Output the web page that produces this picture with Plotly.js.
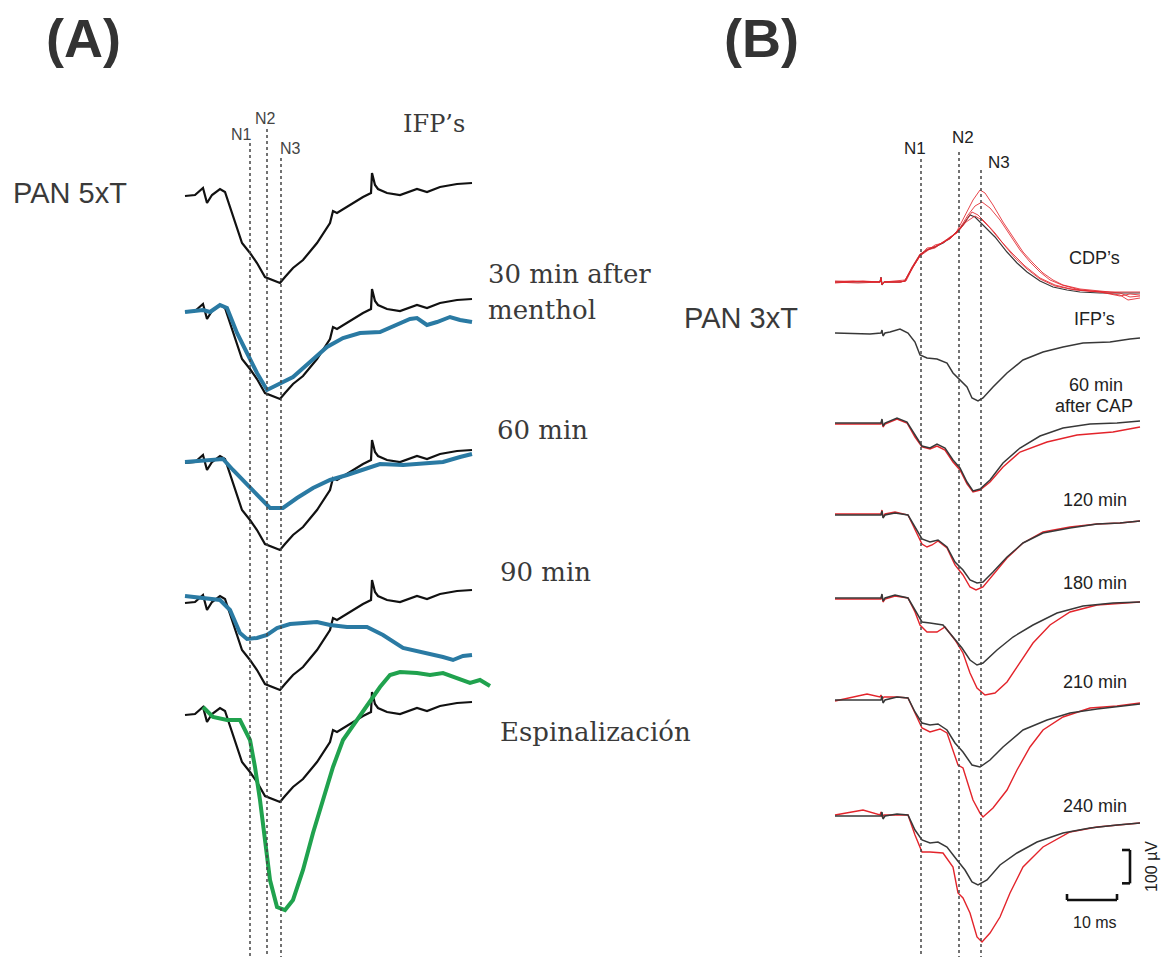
<!DOCTYPE html>
<html><head><meta charset="utf-8">
<script src="https://cdn.plot.ly/plotly-3.0.1.min.js"></script>
<style>html,body{margin:0;padding:0;background:#fff}#chart{width:1161px;height:957px}</style>
</head><body><div id="chart"></div>
<script>
// ---------- Panel A (time in ms, amplitude in a.u.) ----------
const aIfpT = [0.2,2.2,3.8,4.6,5.6,7.2,8.2,9.6,10.6,11.6,13.2,14.6,16.2,17.2,19.2,20.2,21.8,23.8,26.6,29.2,29.8,30.6,33.2,35.8,37.4,37.6,38.2,38.8,40.6,43.2,46.6,48.6,51.2,54.6,57.6];
const aIfpV = [0,1,8,-7,1,7,4,-17,-34,-47,-57,-67,-81,-83,-87,-81,-72,-64,-47,-27,-15,-17,-9,-1,3,23,11,7,3,1,7,4,9,12,13];
const aM30T = [0.2,3.8,5.2,7.2,8.6,10.6,12.6,14.6,16.6,18.6,21.8,25.2,28.6,31.8,35.2,39.2,42.6,45.2,46.6,48.6,50.6,53.2,55.2,57.6];
const aM30V = [0,2,0,7,4,-21,-41,-61,-78,-73,-65,-50,-35,-26,-21,-20,-13,-7,-6,-13,-10,-5,-8,-10];
const aM60T = [0.2,4.6,7.8,9.8,11.8,14.6,17.2,19.8,22.6,25.8,29.2,32.6,35.8,39.2,43.8,47.8,51.8,55.2,57.6];
const aM60V = [1,3,4,-7,-17,-32,-45,-45,-35,-25,-17,-12,-7,-1,-2,0,1,6,9];
const aM90T = [0.2,3.8,7.2,9.2,11.2,12.6,14.6,16.6,18.6,21.2,23.8,26.6,29.2,32.6,36.6,39.8,43.8,47.8,51.8,53.8,55.8,57.6];
const aM90V = [7,5,3,-7,-30,-36,-35,-32,-25,-21,-20,-19,-22,-24,-24,-32,-45,-49,-54,-57,-53,-52];
const aSpinT = [3.8,5.8,8.6,11.2,13.2,14.2,15.2,16.2,17.2,18.6,20.2,21.8,23.8,25.8,27.8,29.8,31.8,34.6,37.2,39.2,41.2,43.2,46.6,49.2,51.8,54.6,57.2,59.2,61.2];
const aSpinV = [8,-2,-5,-5,-25,-52,-85,-125,-165,-192,-195,-185,-155,-118,-85,-52,-25,-5,12,28,40,43,42,40,42,37,32,35,29];
const aLatency = [13.2,16.6,19.4];           // N1, N2, N3
const aLabels = ["IFP’s","30 min after","menthol","60 min","90 min","Espinalización"];

// ---------- Panel B (time in ms, amplitude in µV) ----------
const bCdpBlackT = [0.4,7.4,9.4,9.6,9.8,10.2,13.4,14.4,15.8,17.4,18.8,20.4,22,23.4,24.8,26,27.4,28.4,29.4,30.8,32.4,34.8,36.8,38.8,41.4,44,46.8,49.4,53.4,57.4,61.4];
const bCdpBlackV = [0,0,0,15,-9,0,0,3,42,81,96,105,117,132,150,171,201,195,180,162,135,90,57,30,3,-15,-24,-30,-33,-33,-33];
const bCdpRed1T = [0.4,4,9.4,9.6,9.8,10.2,13.4,14.6,16,17.6,19,20.6,22.2,23.6,24.8,26.4,28,29.4,30.4,32,34,36,38,40,42,44,46,49.4,53.4,57.4,59.4,61.4];
const bCdpRed1V = [0,3,0,12,-6,0,0,3,45,84,99,108,120,135,153,201,246,276,267,231,180,135,90,57,27,6,-9,-21,-27,-33,-45,-42];
const bCdpRed2T = [0.4,5,9.4,9.6,9.8,10.2,13.4,14.4,15.8,17.4,18.8,20.4,22,23.6,25.4,27,28.4,29.8,31.4,33.4,35.4,37.4,39.4,41.4,43.4,45.8,49.4,53.4,57.4,59,61.4];
const bCdpRed2V = [0,-3,0,10,-8,0,0,3,39,78,93,111,117,135,162,201,228,240,222,186,141,96,60,30,6,-9,-24,-30,-39,-54,-48];
const bCdpRed3T = [0.4,6,9.4,9.6,9.8,10.2,13.4,14.4,15.8,17.4,18.8,20.4,22,23.4,24.8,26.4,27.8,29,30.4,32.4,34.4,36.4,38.8,41.4,44.4,47.4,51.4,55.4,61.4];
const bCdpRed3V = [3,0,0,14,-8,0,3,6,42,78,102,105,120,129,150,180,210,201,180,147,108,72,39,9,-12,-21,-27,-30,-30];
const bCdpRed4T = [0.4,6,9.4,9.6,9.8,10.2,13.4,14.4,15.8,17.4,18.8,20.4,22,23.4,24.8,26.6,28.4,29.8,31.4,33.4,35.8,38.4,41.4,44.4,48.4,53.4,57.4,59.4,61.4];
const bCdpRed4V = [-3,3,0,12,-6,0,0,3,45,84,96,102,120,135,147,180,198,186,162,126,87,48,12,-9,-24,-30,-42,-36,-39];

const bIfpT = [0.4,7.4,9.6,9.8,10,10.4,11.4,13.4,15,16.4,17.4,18.8,20.8,22.8,24,25.4,26.8,27.8,29,30,32,34.8,38,42,46,50,55.4,59.4,61.4];
const bIfpV = [0,-3,0,9,-9,0,3,12,0,-27,-66,-75,-78,-90,-120,-141,-162,-195,-204,-195,-162,-120,-81,-57,-42,-30,-27,-18,-15];

const b60BlackT = [0.4,9.6,9.8,10,10.4,12.8,14.8,16.4,17.8,19.4,20.8,22.4,24,25.4,26.8,28,29.4,31.4,34,37.4,41.4,46,51.4,56.8,61.4];
const b60BlackV = [0,0,12,-9,0,15,3,-36,-69,-75,-63,-75,-111,-135,-177,-204,-198,-171,-120,-75,-39,-15,-3,0,6];
const b60RedT = [0.4,9.6,9.8,10,10.4,12.8,14.8,16.4,17.8,19.4,20.8,22.4,24,25.4,26.8,28,29.4,31.4,34,37.4,42.8,48.8,56,61.4];
const b60RedV = [-3,-3,9,-12,-3,12,0,-42,-72,-78,-69,-81,-117,-141,-183,-207,-201,-177,-132,-87,-57,-36,-27,-12];

const b120BlackT = [0.4,9.6,9.8,10,10.4,12.4,15,16.4,17.8,19.4,21,22.8,24.4,26,27.4,28.8,30,32,34.8,38,42,47.4,52.8,57.4,61.4];
const b120BlackV = [0,0,12,-9,0,6,0,-36,-72,-81,-75,-96,-141,-165,-195,-204,-201,-171,-126,-84,-54,-39,-27,-24,-18];
const b120RedT = [0.4,9.6,9.8,10,10.4,12.4,15,16.4,17.8,18.8,19.8,21,22.8,24.4,26,27.4,28.6,30,32,34.8,38,42,47.4,52.8,57.4,61.4];
const b120RedV = [3,3,15,-6,3,9,0,-45,-87,-96,-90,-78,-99,-150,-180,-216,-225,-216,-180,-129,-84,-51,-36,-27,-24,-18];

const b180BlackT = [0.4,9.6,9.8,10,10.4,12.4,15,16.4,17.8,19.4,22,24,25.8,27.4,28.8,30,32.8,36,40,44.8,50,56,61.4];
const b180BlackV = [0,0,12,-9,0,9,0,-36,-72,-75,-81,-117,-150,-186,-201,-195,-156,-117,-81,-45,-24,-15,-12];
const b180RedT = [0.4,9.6,9.8,10,10.4,12.4,15,16.4,17.4,18.8,20.8,22.4,24.4,26,27.4,28.8,30.4,32.4,34.8,37.4,40,43.4,47.4,52.8,61.4];
const b180RedV = [-3,-3,9,-12,-3,6,0,-42,-81,-102,-102,-87,-126,-165,-225,-270,-291,-285,-252,-195,-135,-81,-42,-21,-12];

const b210BlackT = [0.4,9.6,9.8,10,10.4,12.8,15,16.4,17.8,19.4,21,22.8,24.4,26,27.8,29.4,31.4,34,38,42.8,47.4,52.8,61.4];
const b210BlackV = [0,0,12,-9,0,9,6,-36,-69,-75,-72,-90,-129,-156,-195,-201,-180,-141,-90,-60,-39,-27,-12];
const b210RedT = [0.4,4,6.8,9.4,9.6,9.8,10.2,12.8,15,16.4,17.8,19.4,21.4,22.8,24,25,26,27,28,29.4,30,32,34.8,36.8,39.4,42,46,51.4,56.8,61.4];
const b210RedV = [-3,9,18,9,15,3,9,9,6,-39,-84,-96,-87,-99,-150,-195,-204,-249,-300,-339,-351,-324,-270,-210,-141,-90,-51,-24,-18,-9];

const b240BlackT = [0.4,9.6,9.8,10,10.4,12.8,15,16.4,17.8,19.4,21,22.8,24.8,26.4,27.8,29,30.8,33.4,36.8,40.8,46,51.4,56.8,61.4];
const b240BlackV = [0,0,12,-9,0,6,3,-42,-72,-81,-78,-93,-132,-162,-198,-207,-192,-147,-111,-78,-51,-36,-27,-21];
const b240RedT = [0.4,4,6,9.4,9.6,9.8,10.2,15,16.4,17.8,19.4,22,24,25,26,27.4,28.8,29.8,31.4,33.4,35.4,38,42,47.4,52.8,61.4];
const b240RedV = [3,12,18,3,12,-3,3,3,-57,-108,-108,-111,-153,-231,-246,-291,-363,-378,-351,-303,-231,-153,-93,-48,-33,-21];

const bLatency = [17.6,25.2,29.6];           // N1, N2, N3
const bLabels = ["CDP’s","IFP’s","60 min","after CAP","120 min","180 min","210 min","240 min"];
const bScaleMs = 10, bScaleUv = 100;

// ---------- layout geometry (pixels) ----------
const W = 1161, H = 957;
const aRowBase = [196,312,463,603,715];                 // px baselines, panel A
const bRowBase = {cdp:282, ifp:333, r60:423, r120:515, r180:598, r210:700, r240:816};
const aOff = i => -aRowBase[i];
const bOff = k => -3*bRowBase[k];

const BLACK_A = '#111', BLUE = '#2a7aa3', GREEN = '#20a24e';
const BLACK_B = '#383838', RED = '#e3242b';

function tr(t, v, off, ax, color, width, opacity) {
  return {x: t, y: v.map(d => d + off), type: 'scatter', mode: 'lines',
    xaxis: ax === 'A' ? 'x' : 'x2', yaxis: ax === 'A' ? 'y' : 'y2',
    line: {color: color, width: width, shape: 'linear'}, opacity: opacity || 1,
    hoverinfo: 'skip', showlegend: false};
}

const traces = [];
// Panel A: black IFP reference in every row, then coloured condition
for (let i = 0; i < 5; i++) traces.push(tr(aIfpT, aIfpV, aOff(i), 'A', BLACK_A, 2.2));
traces.push(tr(aM30T, aM30V, aOff(1), 'A', BLUE, 4));
traces.push(tr(aM60T, aM60V, aOff(2), 'A', BLUE, 4));
traces.push(tr(aM90T, aM90V, aOff(3), 'A', BLUE, 4));
traces.push(tr(aSpinT, aSpinV, aOff(4), 'A', GREEN, 4));

// Panel B
traces.push(tr(bCdpBlackT, bCdpBlackV, bOff('cdp'), 'B', BLACK_B, 1.2));
traces.push(tr(bCdpRed1T, bCdpRed1V, bOff('cdp'), 'B', RED, 1, 0.85));
traces.push(tr(bCdpRed2T, bCdpRed2V, bOff('cdp'), 'B', RED, 1, 0.85));
traces.push(tr(bCdpRed3T, bCdpRed3V, bOff('cdp'), 'B', RED, 1, 0.85));
traces.push(tr(bCdpRed4T, bCdpRed4V, bOff('cdp'), 'B', RED, 1, 0.85));
traces.push(tr(bIfpT, bIfpV, bOff('ifp'), 'B', BLACK_B, 1.5));
[[b60RedT,b60RedV,b60BlackT,b60BlackV,'r60'],[b120RedT,b120RedV,b120BlackT,b120BlackV,'r120'],
 [b180RedT,b180RedV,b180BlackT,b180BlackV,'r180'],[b210RedT,b210RedV,b210BlackT,b210BlackV,'r210'],
 [b240RedT,b240RedV,b240BlackT,b240BlackV,'r240']].forEach(r => {
  traces.push(tr(r[0], r[1], bOff(r[4]), 'B', RED, 1.4));
  traces.push(tr(r[2], r[3], bOff(r[4]), 'B', BLACK_B, 1.5));
});

// ---------- shapes ----------
const shapes = [];
const aTop = [143,129,158], bTop = [159,152,170];
aLatency.forEach((t, i) => shapes.push({type:'line', xref:'x', yref:'y', x0:t, x1:t, y0:-aTop[i], y1:-H,
  line:{color:'#444', width:1.5, dash:'dot'}}));
bLatency.forEach((t, i) => shapes.push({type:'line', xref:'x2', yref:'y2', x0:t, x1:t, y0:-3*bTop[i], y1:-3*H,
  line:{color:'#444', width:1.5, dash:'dot'}}));
// scale bars (panel B), in data units
const sbX0 = 46.8, sbY = -2700, vbX = 59.4, vbY0 = -2550;
const sb = {color:'#111', width:2.6};
shapes.push({type:'line', xref:'x2', yref:'y2', x0:sbX0, x1:sbX0+bScaleMs, y0:sbY, y1:sbY, line:sb});
shapes.push({type:'line', xref:'x2', yref:'y2', x0:sbX0, x1:sbX0, y0:sbY, y1:sbY+18, line:sb});
shapes.push({type:'line', xref:'x2', yref:'y2', x0:sbX0+bScaleMs, x1:sbX0+bScaleMs, y0:sbY, y1:sbY+18, line:sb});
shapes.push({type:'line', xref:'x2', yref:'y2', x0:vbX, x1:vbX, y0:vbY0, y1:vbY0-bScaleUv, line:sb});
shapes.push({type:'line', xref:'x2', yref:'y2', x0:vbX-1.6, x1:vbX, y0:vbY0, y1:vbY0, line:sb});
shapes.push({type:'line', xref:'x2', yref:'y2', x0:vbX-1.6, x1:vbX, y0:vbY0-bScaleUv, y1:vbY0-bScaleUv, line:sb});

// ---------- annotations (pixel positions) ----------
function ann(text, px, py, size, family, color, xanchor, extra) {
  return Object.assign({text: text, x: px / W, y: 1 - py / H, xref: 'paper', yref: 'paper',
    xanchor: xanchor || 'left', yanchor: 'middle', showarrow: false,
    font: {size: size, family: family, color: color}}, extra || {});
}
const SANS = 'Liberation Sans, Arial, sans-serif', SERIF = 'DejaVu Serif, serif';
const annotations = [
  ann('<b>(A)</b>', 44, 38, 54, SANS, '#333'),
  ann('<b>(B)</b>', 722, 38, 54, SANS, '#333'),
  ann('PAN 5xT', 11, 193, 29, SANS, '#3a3a3a'),
  ann('PAN 3xT', 682, 318, 29, SANS, '#3a3a3a'),
  ann('N1', 241, 134, 16, SANS, '#444', 'center'),
  ann('N2', 265, 118, 16, SANS, '#444', 'center'),
  ann('N3', 290, 149, 16, SANS, '#444', 'center'),
  ann(aLabels[0], 401, 124, 24, SERIF, '#3a3a3a'),
  ann(aLabels[1], 486, 274, 26, SERIF, '#3a3a3a'),
  ann(aLabels[2], 486, 310, 26, SERIF, '#3a3a3a'),
  ann(aLabels[3], 495, 430, 26, SERIF, '#3a3a3a'),
  ann(aLabels[4], 498, 572, 26, SERIF, '#3a3a3a'),
  ann(aLabels[5], 498, 732, 26, SERIF, '#3a3a3a'),
  ann('N1', 915, 148, 17, SANS, '#222', 'center'),
  ann('N2', 963, 138, 17, SANS, '#222', 'center'),
  ann('N3', 999, 163, 17, SANS, '#222', 'center'),
  ann(bLabels[0], 1094, 258, 18, SANS, '#222', 'center'),
  ann(bLabels[1], 1094, 319, 18, SANS, '#222', 'center'),
  ann(bLabels[2], 1096, 385, 18, SANS, '#222', 'center'),
  ann(bLabels[3], 1094, 406, 18, SANS, '#222', 'center'),
  ann(bLabels[4], 1095, 500, 18, SANS, '#222', 'center'),
  ann(bLabels[5], 1095, 583, 18, SANS, '#222', 'center'),
  ann(bLabels[6], 1095, 682, 18, SANS, '#222', 'center'),
  ann(bLabels[7], 1095, 806, 18, SANS, '#222', 'center'),
  ann(bScaleMs + ' ms', 1095, 922, 16, SANS, '#222', 'center'),
  ann(bScaleUv + ' µV', 1151, 867, 16, SANS, '#222', 'center', {textangle: -90})
];

const hidden = {visible: false, fixedrange: true, showgrid: false, zeroline: false};
const layout = {
  width: W, height: H, margin: {l:0, r:0, t:0, b:0, pad:0},
  paper_bgcolor: '#fff', plot_bgcolor: '#fff', showlegend: false,
  xaxis: Object.assign({range: [-184/5, (W-184)/5], domain: [0,1]}, hidden),
  yaxis: Object.assign({range: [-H, 0], domain: [0,1]}, hidden),
  xaxis2: Object.assign({range: [-833/5, (W-833)/5], overlaying: 'x'}, hidden),
  yaxis2: Object.assign({range: [-3*H, 0], overlaying: 'y'}, hidden),
  shapes: shapes, annotations: annotations
};
Plotly.newPlot('chart', traces, layout, {staticPlot: true, displayModeBar: false});
</script></body></html>
